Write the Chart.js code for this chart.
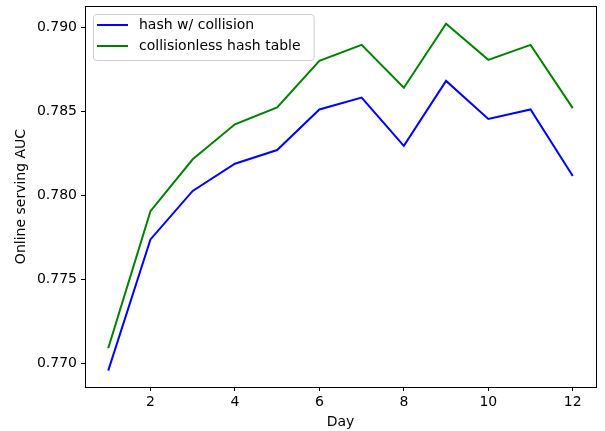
<!DOCTYPE html>
<html>
<head>
<meta charset="utf-8">
<script src="https://cdn.jsdelivr.net/npm/chart.js@4/dist/chart.umd.min.js"></script>
<style>
  html, body { margin: 0; padding: 0; background: #fff; }
  #wrap { width: 605px; height: 431px; }
</style>
</head>
<body>
<div id="wrap"><canvas id="aucChart"></canvas></div>
<script>
// values
const days = [1, 2, 3, 4, 5, 6, 7, 8, 9, 10, 11, 12];
const hashWithCollision = [0.76958, 0.77738, 0.78026, 0.78188, 0.78269, 0.78510, 0.78581, 0.78294, 0.78680, 0.78454, 0.78510, 0.78115];
const collisionlessHash = [0.77091, 0.77906, 0.78214, 0.78422, 0.78522, 0.78799, 0.78894, 0.78639, 0.79020, 0.78805, 0.78894, 0.78518];
const yTicks = [0.770, 0.775, 0.780, 0.785, 0.790];
const xTicks = [2, 4, 6, 8, 10, 12];

const FONT = 'DejaVu Sans';
const FONT_SIZE = 14;

function toPoints(values) {
    return days.map((d, i) => ({ x: d, y: values[i] }));
}

// black frame round the plot, like matplotlib spines
const framePlugin = {
    id: 'frame',
    afterDraw(chart) {
        const { ctx, chartArea: a } = chart;
        ctx.save();
        ctx.strokeStyle = '#000';
        ctx.lineWidth = 1;
        ctx.strokeRect(Math.round(a.left) + 0.5, Math.round(a.top) + 0.5,
            Math.round(a.right - a.left), Math.round(a.bottom - a.top));
        ctx.restore();
    }
};

// legend box in the upper-left corner of the plot
const boxLegend = {
    id: 'boxLegend',
    afterDraw(chart) {
        const { ctx, chartArea: a } = chart;
        const sets = chart.data.datasets;
        ctx.save();
        ctx.font = FONT_SIZE + 'px "' + FONT + '"';
        let maxW = 0;
        sets.forEach(s => { maxW = Math.max(maxW, ctx.measureText(s.label).width); });
        const x0 = a.left + 8, y0 = a.top + 8;
        const w = 54 + maxW + 5, h = 46;
        ctx.fillStyle = 'rgba(255,255,255,0.8)';
        ctx.strokeStyle = '#cccccc';
        ctx.lineWidth = 1;
        ctx.beginPath();
        ctx.roundRect(x0 + 0.5, y0 + 0.5, w, h, 3);
        ctx.fill();
        ctx.stroke();
        sets.forEach((s, i) => {
            const y = y0 + 11 + i * 21;
            ctx.strokeStyle = s.borderColor;
            ctx.lineWidth = 2;
            ctx.beginPath();
            ctx.moveTo(x0 + 4, y);
            ctx.lineTo(x0 + 35, y);
            ctx.stroke();
            ctx.fillStyle = '#000';
            ctx.textBaseline = 'middle';
            ctx.fillText(s.label, x0 + 46, y);
        });
        ctx.restore();
    }
};

new Chart(document.getElementById('aucChart'), {
    type: 'line',
    data: {
        datasets: [
            {
                label: 'hash w/ collision',
                data: toPoints(hashWithCollision),
                borderColor: '#0000ff',
                backgroundColor: '#0000ff',
                borderWidth: 2,
                pointRadius: 0,
                tension: 0
            },
            {
                label: 'collisionless hash table',
                data: toPoints(collisionlessHash),
                borderColor: '#008000',
                backgroundColor: '#008000',
                borderWidth: 2,
                pointRadius: 0,
                tension: 0
            }
        ]
    },
    options: {
        responsive: true,
        maintainAspectRatio: false,
        animation: false,
        layout: { padding: { left: 0, right: 9, top: 6, bottom: 0 } },
        scales: {
            x: {
                type: 'linear',
                min: 0.45,
                max: 12.55,
                afterFit(scale) {
                    scale.height = 44;
                    scale.paddingLeft = 0;
                    scale.paddingRight = 0;
                },
                afterBuildTicks(scale) { scale.ticks = xTicks.map(v => ({ value: v })); },
                grid: { drawOnChartArea: false, drawTicks: true, tickLength: 4, color: '#000' },
                border: { color: '#000' },
                ticks: { color: '#000', padding: 3, font: { family: FONT, size: FONT_SIZE } },
                title: { display: true, text: 'Day', color: '#000', padding: { top: 3, bottom: 0 }, font: { family: FONT, size: FONT_SIZE } }
            },
            y: {
                type: 'linear',
                min: 0.76861,
                max: 0.79125,
                afterFit(scale) {
                    scale.width = 85;
                    scale.paddingTop = 0;
                    scale.paddingBottom = 0;
                },
                afterBuildTicks(scale) { scale.ticks = yTicks.map(v => ({ value: v })); },
                grid: { drawOnChartArea: false, drawTicks: true, tickLength: 4, color: '#000' },
                border: { color: '#000' },
                ticks: {
                    color: '#000',
                    padding: 4,
                    font: { family: FONT, size: FONT_SIZE },
                    callback: v => v.toFixed(3)
                },
                title: { display: true, text: 'Online serving AUC', color: '#000', padding: { top: 13, bottom: 0 }, font: { family: FONT, size: FONT_SIZE } }
            }
        },
        plugins: {
            legend: { display: false },
            tooltip: { enabled: false }
        }
    },
    plugins: [framePlugin, boxLegend]
});
</script>
</body>
</html>
